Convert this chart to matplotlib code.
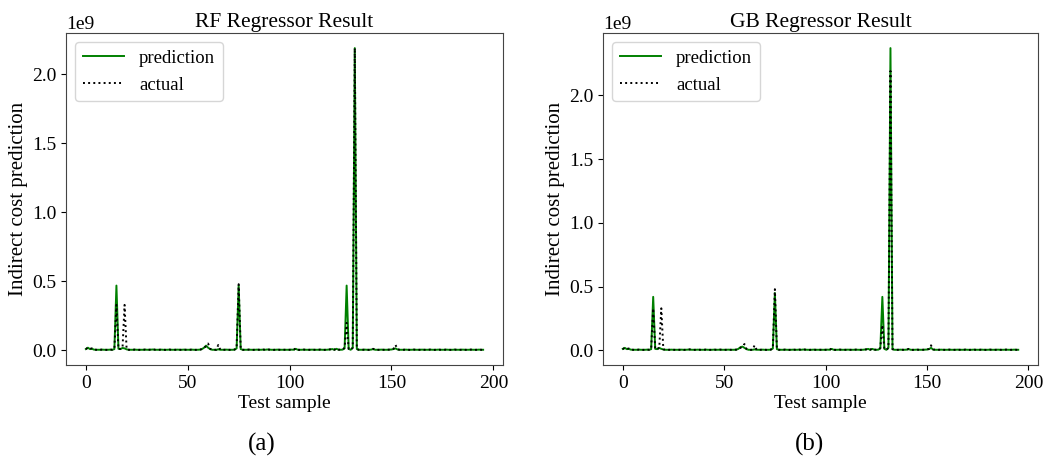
import numpy as np
import matplotlib.pyplot as plt

plt.rcParams['font.family'] = ['Liberation Serif', 'DejaVu Serif']

# ---------------- data (values in units of 1e9) ----------------
actual = [
    0.010, 0.020, 0.012, 0.015, 0.006, 0.005, 0.004, 0.005, 0.006, 0.005, 0.004, 0.005, 0.006, 0.005,
    0.012, 0.330, 0.010, 0.012, 0.020, 0.330, 0.008, 0.005, 0.004, 0.005, 0.006, 0.005, 0.004, 0.005,
    0.005, 0.006, 0.004, 0.005, 0.006, 0.008, 0.005, 0.004, 0.005, 0.006, 0.005, 0.004, 0.005, 0.006,
    0.005, 0.004, 0.005, 0.006, 0.005, 0.004, 0.006, 0.005, 0.004, 0.005, 0.006, 0.005, 0.004, 0.005,
    0.006, 0.010, 0.020, 0.030, 0.050, 0.012, 0.005, 0.004, 0.005, 0.040, 0.005, 0.004, 0.005, 0.006,
    0.005, 0.004, 0.005, 0.006, 0.020, 0.480, 0.010, 0.005, 0.004, 0.005, 0.006, 0.005, 0.004, 0.005,
    0.006, 0.005, 0.004, 0.006, 0.005, 0.008, 0.006, 0.005, 0.004, 0.005, 0.006, 0.005, 0.004, 0.005,
    0.005, 0.004, 0.005, 0.006, 0.005, 0.015, 0.005, 0.004, 0.005, 0.006, 0.005, 0.004, 0.005, 0.006,
    0.005, 0.004, 0.005, 0.006, 0.005, 0.004, 0.005, 0.006, 0.008, 0.012, 0.005, 0.015, 0.006, 0.005,
    0.006, 0.020, 0.200, 0.010, 0.005, 0.020, 2.190, 0.010, 0.005, 0.004, 0.005, 0.006, 0.005, 0.004,
    0.006, 0.012, 0.005, 0.004, 0.005, 0.006, 0.005, 0.004, 0.005, 0.006, 0.008, 0.012, 0.040, 0.008,
    0.005, 0.004, 0.005, 0.006, 0.005, 0.004, 0.005, 0.006, 0.005, 0.004, 0.005, 0.006, 0.005, 0.004,
    0.005, 0.006, 0.005, 0.004, 0.005, 0.006, 0.005, 0.004, 0.005, 0.006, 0.005, 0.004, 0.005, 0.006,
    0.005, 0.004, 0.005, 0.006, 0.005, 0.004, 0.005, 0.006, 0.005, 0.004, 0.005, 0.006, 0.005, 0.004,
]

rf_pred = [
    0.010, 0.020, 0.010, 0.012, 0.006, 0.005, 0.005, 0.005, 0.006, 0.005, 0.005, 0.005, 0.006, 0.005,
    0.010, 0.470, 0.012, 0.010, 0.018, 0.015, 0.008, 0.005, 0.005, 0.005, 0.006, 0.005, 0.005, 0.005,
    0.005, 0.006, 0.005, 0.005, 0.006, 0.007, 0.005, 0.005, 0.005, 0.006, 0.005, 0.005, 0.005, 0.006,
    0.005, 0.005, 0.005, 0.006, 0.005, 0.005, 0.006, 0.005, 0.005, 0.005, 0.006, 0.005, 0.005, 0.005,
    0.006, 0.010, 0.020, 0.035, 0.020, 0.010, 0.005, 0.005, 0.005, 0.008, 0.005, 0.005, 0.005, 0.006,
    0.005, 0.005, 0.005, 0.006, 0.015, 0.470, 0.010, 0.005, 0.005, 0.005, 0.006, 0.005, 0.005, 0.005,
    0.006, 0.005, 0.005, 0.006, 0.005, 0.007, 0.006, 0.005, 0.005, 0.005, 0.006, 0.005, 0.005, 0.005,
    0.005, 0.005, 0.005, 0.006, 0.005, 0.012, 0.005, 0.005, 0.005, 0.006, 0.005, 0.005, 0.005, 0.006,
    0.005, 0.005, 0.005, 0.006, 0.005, 0.005, 0.005, 0.006, 0.008, 0.010, 0.005, 0.012, 0.006, 0.005,
    0.006, 0.015, 0.470, 0.012, 0.005, 0.020, 2.190, 0.010, 0.005, 0.005, 0.005, 0.006, 0.005, 0.005,
    0.006, 0.010, 0.005, 0.005, 0.005, 0.006, 0.005, 0.005, 0.005, 0.006, 0.007, 0.010, 0.015, 0.007,
    0.005, 0.005, 0.005, 0.006, 0.005, 0.005, 0.005, 0.006, 0.005, 0.005, 0.005, 0.006, 0.005, 0.005,
    0.005, 0.006, 0.005, 0.005, 0.005, 0.006, 0.005, 0.005, 0.005, 0.006, 0.005, 0.005, 0.005, 0.006,
    0.005, 0.005, 0.005, 0.006, 0.005, 0.005, 0.005, 0.006, 0.005, 0.005, 0.005, 0.006, 0.005, 0.005,
]

gb_pred = [
    0.012, 0.020, 0.010, 0.012, 0.006, 0.005, 0.005, 0.005, 0.006, 0.005, 0.005, 0.005, 0.006, 0.005,
    0.010, 0.420, 0.012, 0.010, 0.020, 0.012, 0.008, 0.005, 0.005, 0.005, 0.006, 0.005, 0.005, 0.005,
    0.005, 0.006, 0.005, 0.005, 0.006, 0.007, 0.005, 0.005, 0.005, 0.006, 0.005, 0.005, 0.005, 0.006,
    0.005, 0.005, 0.005, 0.006, 0.005, 0.005, 0.006, 0.005, 0.005, 0.005, 0.006, 0.005, 0.005, 0.005,
    0.006, 0.012, 0.025, 0.030, 0.020, 0.010, 0.005, 0.005, 0.005, 0.008, 0.005, 0.005, 0.005, 0.006,
    0.005, 0.005, 0.005, 0.006, 0.015, 0.450, 0.010, 0.005, 0.005, 0.005, 0.006, 0.005, 0.005, 0.005,
    0.006, 0.005, 0.005, 0.006, 0.005, 0.007, 0.006, 0.005, 0.005, 0.005, 0.006, 0.005, 0.005, 0.005,
    0.005, 0.005, 0.005, 0.006, 0.005, 0.012, 0.005, 0.005, 0.005, 0.006, 0.005, 0.005, 0.005, 0.006,
    0.005, 0.005, 0.005, 0.006, 0.005, 0.005, 0.005, 0.006, 0.008, 0.012, 0.005, 0.012, 0.006, 0.005,
    0.006, 0.015, 0.420, 0.012, 0.005, 0.020, 2.370, 0.010, 0.005, 0.005, 0.005, 0.006, 0.005, 0.005,
    0.006, 0.010, 0.005, 0.005, 0.005, 0.006, 0.005, 0.005, 0.005, 0.006, 0.007, 0.010, 0.020, 0.007,
    0.005, 0.005, 0.005, 0.006, 0.005, 0.005, 0.005, 0.006, 0.005, 0.005, 0.005, 0.006, 0.005, 0.005,
    0.005, 0.006, 0.005, 0.005, 0.005, 0.006, 0.005, 0.005, 0.005, 0.006, 0.005, 0.005, 0.005, 0.006,
    0.005, 0.005, 0.005, 0.006, 0.005, 0.005, 0.005, 0.006, 0.005, 0.005, 0.005, 0.006, 0.005, 0.005,
]

titles = ['RF Regressor Result', 'GB Regressor Result']
captions = ['(a)', '(b)']
preds = [rf_pred, gb_pred]

# ---------------- figure ----------------
W, H = 1046, 459
fig = plt.figure(figsize=(W / 100, H / 100), dpi=100)

# axes boxes in pixels: left, top, right, bottom
boxes = [(66, 33, 503, 365), (603, 33, 1038, 365)]
cap_x = [262, 810]

x = np.arange(len(actual))
actual_arr = np.array(actual) * 1e9

for i, (l, t, r, b) in enumerate(boxes):
    ax = fig.add_axes([l / W, 1 - b / H, (r - l) / W, (b - t) / H])
    ax.plot(x, np.array(preds[i]) * 1e9, color='green', linewidth=1.4, label='prediction')
    ax.plot(x, actual_arr, color='black', linestyle=':', linewidth=1.4, label='actual')
    ax.set_title(titles[i], fontsize=15.5, pad=4)
    ax.set_xlabel('Test sample', fontsize=14, labelpad=2)
    ax.set_ylabel('Indirect cost prediction', fontsize=15, labelpad=3)
    ax.tick_params(labelsize=14)
    ax.yaxis.get_offset_text().set_fontsize(14)
    ax.set_xticks([0, 50, 100, 150, 200])
    ax.legend(loc='upper left', fontsize=13.5, handlelength=2.2)
    for s in ax.spines.values():
        s.set_color('#444444')
    fig.text(cap_x[i] / W, 1 - 444 / H, captions[i], ha='center', va='center', fontsize=18)

fig.savefig('out.png', dpi=100)
